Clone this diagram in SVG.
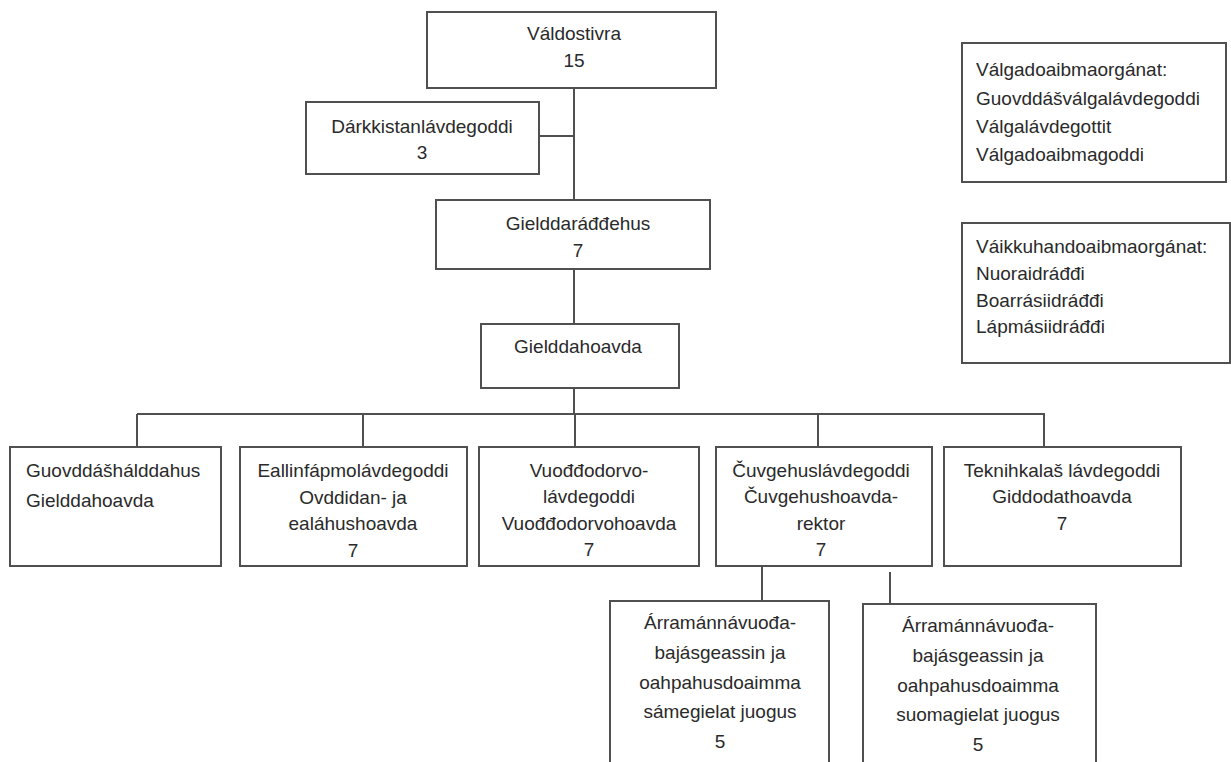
<svg xmlns="http://www.w3.org/2000/svg" width="1231" height="762" viewBox="0 0 1231 762">
<style>
.box{fill:#fff;stroke:#505050;stroke-width:2}
.ln{stroke:#505050;stroke-width:2;fill:none}
text{font-family:"Liberation Sans",Arial,sans-serif;font-size:19px;fill:#2a2a2a}
.c{text-anchor:middle}
</style>
<rect width="1231" height="762" fill="#fff"/>
<g id="connectors">
<path class="ln" d="M574 88V324M539 136H574M574 388V414M137 414H1045M137 414V447M363 414V447M575 414V447M818 414V447M1044 414V447M762 566V601M890 572V604"/>
</g>
<g id="valdostivra"><rect class="box" x="427" y="12" width="289" height="76"/><text class="c" x="574" y="40">Váldostivra</text><text class="c" x="574" y="67">15</text></g>
<g id="darkkistan"><rect class="box" x="306" y="102" width="233" height="72"/><text class="c" x="422" y="133">Dárkkistanlávdegoddi</text><text class="c" x="422" y="159">3</text></g>
<g id="gielddaraddehus"><rect class="box" x="436" y="200" width="274" height="69"/><text class="c" x="578" y="230">Gielddaráđđehus</text><text class="c" x="578" y="257">7</text></g>
<g id="gielddahoavda"><rect class="box" x="481" y="324" width="198" height="64"/><text class="c" x="578" y="353">Gielddahoavda</text></g>
<g id="guovddashalddahus"><rect class="box" x="10" y="447" width="211" height="119"/><text x="26" y="477">Guovddášhálddahus</text><text x="26" y="507">Gielddahoavda</text></g>
<g id="eallinfapmo"><rect class="box" x="240" y="447" width="227" height="119"/><text class="c" x="353" y="477">Eallinfápmolávdegoddi</text><text class="c" x="353" y="504">Ovddidan- ja</text><text class="c" x="353" y="530">ealáhushoavda</text><text class="c" x="353" y="557">7</text></g>
<g id="vuoddodorvo"><rect class="box" x="479" y="447" width="220" height="119"/><text class="c" x="589" y="477">Vuođđodorvo-</text><text class="c" x="589" y="503">lávdegoddi</text><text class="c" x="589" y="530">Vuođđodorvohoavda</text><text class="c" x="589" y="556">7</text></g>
<g id="cuvgehus"><rect class="box" x="716" y="447" width="216" height="119"/><text class="c" x="821" y="477">Čuvgehuslávdegoddi</text><text class="c" x="821" y="503">Čuvgehushoavda-</text><text class="c" x="821" y="530">rektor</text><text class="c" x="821" y="556">7</text></g>
<g id="teknihkalas"><rect class="box" x="944" y="447" width="237" height="119"/><text class="c" x="1062" y="477">Teknihkalaš lávdegoddi</text><text class="c" x="1062" y="503">Giddodathoavda</text><text class="c" x="1062" y="530">7</text></g>
<g id="arramanna-sami"><rect class="box" x="610" y="601" width="219" height="170"/><text class="c" x="720" y="629">Árramánnávuođa-</text><text class="c" x="720" y="659">bajásgeassin ja</text><text class="c" x="720" y="689">oahpahusdoaimma</text><text class="c" x="720" y="718">sámegielat juogus</text><text class="c" x="720" y="748">5</text></g>
<g id="arramanna-suoma"><rect class="box" x="863" y="604" width="233" height="170"/><text class="c" x="978" y="632">Árramánnávuođa-</text><text class="c" x="978" y="662">bajásgeassin ja</text><text class="c" x="978" y="692">oahpahusdoaimma</text><text class="c" x="978" y="721">suomagielat juogus</text><text class="c" x="978" y="751">5</text></g>
<g id="valgadoaibma"><rect class="box" x="962" y="43" width="264" height="139"/><text x="976" y="76">Válgadoaibmaorgánat:</text><text x="976" y="105">Guovddášválgalávdegoddi</text><text x="976" y="133">Válgalávdegottit</text><text x="976" y="161">Válgadoaibmagoddi</text></g>
<g id="vaikkuhan"><rect class="box" x="962" y="223" width="268" height="140"/><text x="976" y="253">Váikkuhandoaibmaorgánat:</text><text x="976" y="280">Nuoraidráđđi</text><text x="976" y="307">Boarrásiidráđđi</text><text x="976" y="333">Lápmásiidráđđi</text></g>
</svg>
